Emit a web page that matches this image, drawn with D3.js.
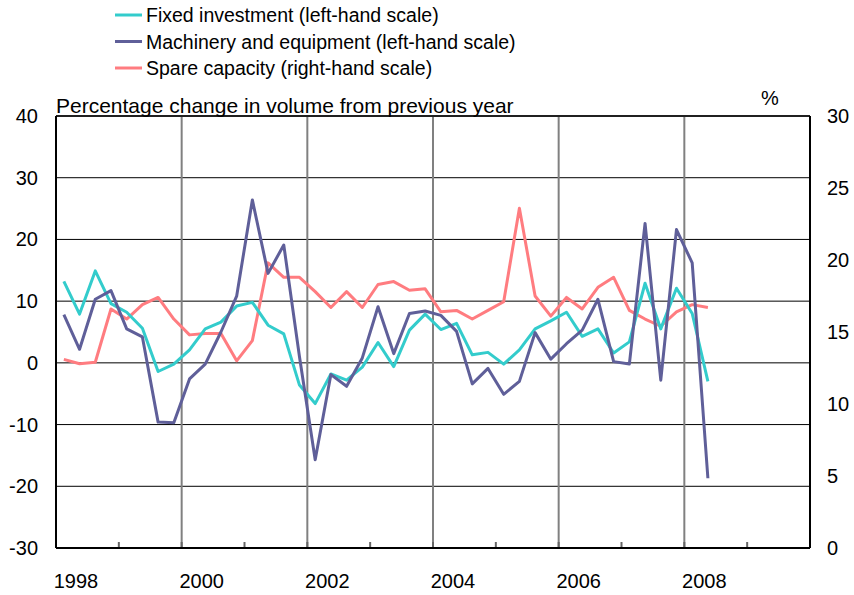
<!DOCTYPE html>
<html>
<head>
<meta charset="utf-8">
<script src="https://cdn.jsdelivr.net/npm/d3@7"></script>
<style>
  html, body { margin: 0; padding: 0; background: #fff; }
  svg { display: block; font-family: "Liberation Sans", Arial, sans-serif; }
</style>
</head>
<body>
<svg id="chart" width="854" height="595"></svg>
<script>
// Quarterly periods, 1998 Q1 to 2008 Q2
const periods = [
  "1998Q1","1998Q2","1998Q3","1998Q4","1999Q1","1999Q2","1999Q3","1999Q4",
  "2000Q1","2000Q2","2000Q3","2000Q4","2001Q1","2001Q2","2001Q3","2001Q4",
  "2002Q1","2002Q2","2002Q3","2002Q4","2003Q1","2003Q2","2003Q3","2003Q4",
  "2004Q1","2004Q2","2004Q3","2004Q4","2005Q1","2005Q2","2005Q3","2005Q4",
  "2006Q1","2006Q2","2006Q3","2006Q4","2007Q1","2007Q2","2007Q3","2007Q4",
  "2008Q1","2008Q2"
];

// Percentage change in volume from previous year (left-hand scale)
const fixedInvestment = [
  13.2, 7.9, 14.9, 9.6, 8.2, 5.6, -1.4, -0.2, 2.1, 5.5, 6.6, 9.2, 9.8,
  6.1, 4.7, -3.6, -6.6, -1.8, -2.8, -0.7, 3.3, -0.6, 5.3, 7.9, 5.4,
  6.4, 1.3, 1.7, -0.2, 2.1, 5.5, 6.8, 8.2, 4.3, 5.5, 1.6, 3.4,
  12.9, 5.5, 12.1, 8.0, -3.0
];
const machinery = [
  7.8, 2.2, 10.3, 11.7, 5.5, 4.2, -9.6, -9.7, -2.6, -0.2, 5.0, 10.8, 26.4,
  14.5, 19.1, 1.0, -15.7, -1.9, -3.8, 0.8, 9.1, 1.5, 8.0, 8.4, 7.7,
  5.1, -3.4, -0.9, -5.1, -3.0, 4.9, 0.6, 3.1, 5.3, 10.3, 0.2, -0.2,
  22.6, -2.8, 21.6, 16.2, -18.7
];
// Spare capacity, per cent (right-hand scale)
const spareCapacity = [
  13.1, 12.8, 12.9, 16.6, 15.9, 16.9, 17.4, 15.9, 14.8, 14.9, 14.9, 13.0, 14.4,
  19.8, 18.8, 18.8, 17.8, 16.7, 17.8, 16.7, 18.3, 18.5, 17.9, 18.0, 16.4,
  16.5, 15.9, 16.5, 17.1, 23.6, 17.5, 16.1, 17.4, 16.6, 18.1, 18.8, 16.5,
  15.9, 15.4, 16.4, 16.9, 16.7
];

const leftTicks = [-30, -20, -10, 0, 10, 20, 30, 40];
const rightTicks = [0, 5, 10, 15, 20, 25, 30];
const yearLabels = [1998, 2000, 2002, 2004, 2006, 2008];
const gridYears = [2000, 2002, 2004, 2006, 2008];
const tickYears = [1999, 2000, 2001, 2002, 2003, 2004, 2005, 2006, 2007, 2008, 2009];

const legendItems = [
  { label: "Fixed investment (left-hand scale)", color: "#33CCCC" },
  { label: "Machinery and equipment (left-hand scale)", color: "#5F5F99" },
  { label: "Spare capacity (right-hand scale)", color: "#FF7C80" }
];

const svg = d3.select("#chart");
const L = 56, R = 810, T = 116, B = 548;

const x = d3.scaleLinear().domain([1998, 2010]).range([L, R]);
const yL = d3.scaleLinear().domain([-30, 40]).range([B, T]);
const yR = d3.scaleLinear().domain([0, 30]).range([B, T]);

// quarter midpoint on the time axis
const tq = p => +p.slice(0, 4) + (+p.slice(5) - 0.5) / 4;

// horizontal gridlines
svg.append("g").selectAll("line").data(leftTicks).join("line")
  .attr("x1", L).attr("x2", R)
  .attr("y1", d => yL(d)).attr("y2", d => yL(d))
  .attr("stroke", "#000").attr("stroke-width", 1);

// vertical gridlines
svg.append("g").selectAll("line").data(gridYears).join("line")
  .attr("x1", d => x(d)).attr("x2", d => x(d))
  .attr("y1", T).attr("y2", B)
  .attr("stroke", "#808080").attr("stroke-width", 2);

// year ticks on the bottom axis
svg.append("g").selectAll("line").data(tickYears).join("line")
  .attr("x1", d => x(d)).attr("x2", d => x(d))
  .attr("y1", B - 6).attr("y2", B)
  .attr("stroke", "#666").attr("stroke-width", 2);

// frame
svg.append("line").attr("x1", L).attr("x2", R).attr("y1", T).attr("y2", T)
  .attr("stroke", "#000").attr("stroke-width", 1.5);
svg.append("line").attr("x1", L).attr("x2", R).attr("y1", B).attr("y2", B)
  .attr("stroke", "#000").attr("stroke-width", 2);
svg.append("line").attr("x1", L).attr("x2", L).attr("y1", T).attr("y2", B)
  .attr("stroke", "#000").attr("stroke-width", 2);
svg.append("line").attr("x1", R).attr("x2", R).attr("y1", T).attr("y2", B)
  .attr("stroke", "#000").attr("stroke-width", 2);

// series lines
const lineL = d3.line().x((d, i) => x(tq(periods[i]))).y(d => yL(d));
const lineR = d3.line().x((d, i) => x(tq(periods[i]))).y(d => yR(d));

svg.append("path").datum(spareCapacity).attr("d", lineR)
  .attr("fill", "none").attr("stroke", legendItems[2].color)
  .attr("stroke-width", 3).attr("stroke-linejoin", "round");
svg.append("path").datum(fixedInvestment).attr("d", lineL)
  .attr("fill", "none").attr("stroke", legendItems[0].color)
  .attr("stroke-width", 3).attr("stroke-linejoin", "round");
svg.append("path").datum(machinery).attr("d", lineL)
  .attr("fill", "none").attr("stroke", legendItems[1].color)
  .attr("stroke-width", 3).attr("stroke-linejoin", "round");

// left axis labels
svg.append("g").selectAll("text").data(leftTicks).join("text")
  .attr("x", 38).attr("y", d => yL(d) + 7)
  .attr("text-anchor", "end").attr("font-size", 20).attr("fill", "#000")
  .text(d => d);

// right axis labels
svg.append("g").selectAll("text").data(rightTicks).join("text")
  .attr("x", 827).attr("y", d => yR(d) + 7)
  .attr("text-anchor", "start").attr("font-size", 20).attr("fill", "#000")
  .text(d => d);

// year labels
svg.append("g").selectAll("text").data(yearLabels).join("text")
  .attr("x", d => x(d) + 20).attr("y", 588)
  .attr("text-anchor", "middle").attr("font-size", 20).attr("fill", "#000")
  .text(d => d);

// axis captions
svg.append("text").attr("x", 56).attr("y", 113)
  .attr("font-size", 21).attr("fill", "#000")
  .text("Percentage change in volume from previous year");
svg.append("text").attr("x", 770).attr("y", 105)
  .attr("text-anchor", "middle").attr("font-size", 20).attr("fill", "#000")
  .text("%");

// legend
const lg = svg.append("g").selectAll("g").data(legendItems).join("g")
  .attr("transform", (d, i) => `translate(115, ${15 + i * 26.5})`);
lg.append("line").attr("x1", 0).attr("x2", 27).attr("y1", 0).attr("y2", 0)
  .attr("stroke", d => d.color).attr("stroke-width", 3);
lg.append("text").attr("x", 31).attr("y", 7)
  .attr("font-size", 19.5).attr("fill", "#000").text(d => d.label);
</script>
</body>
</html>
